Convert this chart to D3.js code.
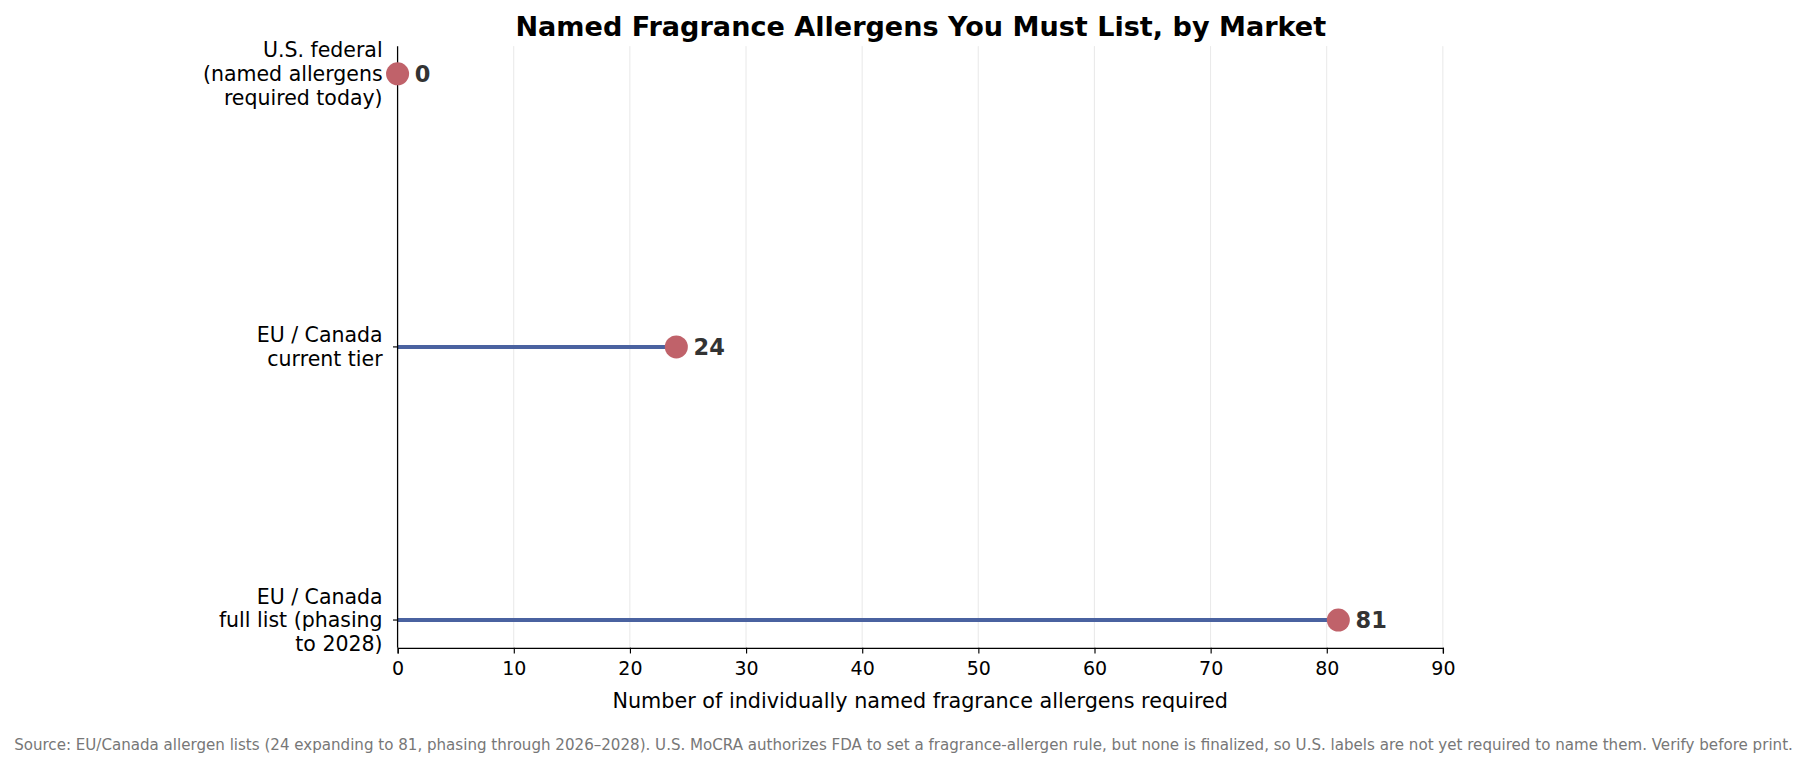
<!DOCTYPE html>
<html><head><meta charset="utf-8">
<script src="https://cdn.jsdelivr.net/npm/d3@7"></script>
<style>body{margin:0;background:#fff}svg{display:block;font-family:"DejaVu Sans",sans-serif}</style>
</head><body>
<svg id="c" width="1807" height="767" viewBox="0 0 1568 665.5"></svg>
<script>
const categories = [
  ["U.S. federal","(named allergens","required today)"],
  ["EU / Canada","current tier"],
  ["EU / Canada","full list (phasing","to 2028)"]
];
const values = [0, 24, 81];
const xTicks = [0,10,20,30,40,50,60,70,80,90];

const svg = d3.select("#c");
const L=345,R=1252,T=40,B=562;
const x = d3.scaleLinear().domain([0,90]).range([L,R]);
const y = d3.scalePoint().domain(d3.range(categories.length)).range([64,538]);

svg.append("g").selectAll("line").data(xTicks.slice(1)).join("line")
  .attr("x1",d=>x(d)).attr("x2",d=>x(d)).attr("y1",T).attr("y2",B)
  .attr("stroke","#e6e6e6").attr("stroke-width",0.8);

svg.append("g").selectAll("line").data(values).join("line")
  .attr("x1",x(0)).attr("x2",d=>x(d)).attr("y1",(d,i)=>y(i)).attr("y2",(d,i)=>y(i))
  .attr("stroke","#4a62a0").attr("stroke-width",3.5);

const xa = svg.append("g").attr("transform",`translate(0,${B})`)
  .call(d3.axisBottom(x).tickValues(xTicks).tickSize(5).tickPadding(7));
xa.select(".domain").attr("stroke","#000").attr("stroke-width",1.1);
xa.selectAll("text").attr("font-size",16.5).attr("fill","#000").attr("font-family","DejaVu Sans");

svg.append("line").attr("x1",L).attr("x2",L).attr("y1",T).attr("y2",B).attr("stroke","#000").attr("stroke-width",1.1);
svg.append("g").selectAll("line").data(categories).join("line")
  .attr("x1",L-4).attr("x2",L).attr("y1",(d,i)=>y(i)).attr("y2",(d,i)=>y(i)).attr("stroke","#000");

svg.append("g").selectAll("circle").data(values).join("circle")
  .attr("cx",d=>x(d)).attr("cy",(d,i)=>y(i)).attr("r",10).attr("fill","#c0626a");

svg.append("g").selectAll("text").data(values).join("text")
  .attr("x",d=>x(d)+15).attr("y",(d,i)=>y(i)).attr("dy","0.35em")
  .attr("font-size",19.5).attr("font-weight","bold").attr("fill","#333").text(d=>d);

const lab = svg.append("g").selectAll("text").data(categories).join("text")
  .attr("text-anchor","end").attr("font-size",17.8).attr("fill","#000");
lab.each(function(d,i){
  const n=d.length, t=d3.select(this);
  d.forEach((s,j)=>t.append("tspan").attr("x",L-13)
    .attr("y",y(i)+(j-(n-1)/2)*20.5).attr("dy","0.35em").text(s));
});

svg.append("text").attr("x",(L+R)/2+0.5).attr("y",23).attr("dy","0.35em").attr("text-anchor","middle")
  .attr("font-size",23.5).attr("font-weight","bold").text("Named Fragrance Allergens You Must List, by Market");
svg.append("text").attr("x",(L+R)/2).attr("y",608).attr("dy","0.35em").attr("text-anchor","middle")
  .attr("font-size",18).text("Number of individually named fragrance allergens required");
svg.append("text").attr("x",784).attr("y",646).attr("dy","0.35em").attr("text-anchor","middle")
  .attr("font-size",13.1).attr("fill","#777")
  .text("Source: EU/Canada allergen lists (24 expanding to 81, phasing through 2026–2028). U.S. MoCRA authorizes FDA to set a fragrance-allergen rule, but none is finalized, so U.S. labels are not yet required to name them. Verify before print.");
</script>
</body></html>
